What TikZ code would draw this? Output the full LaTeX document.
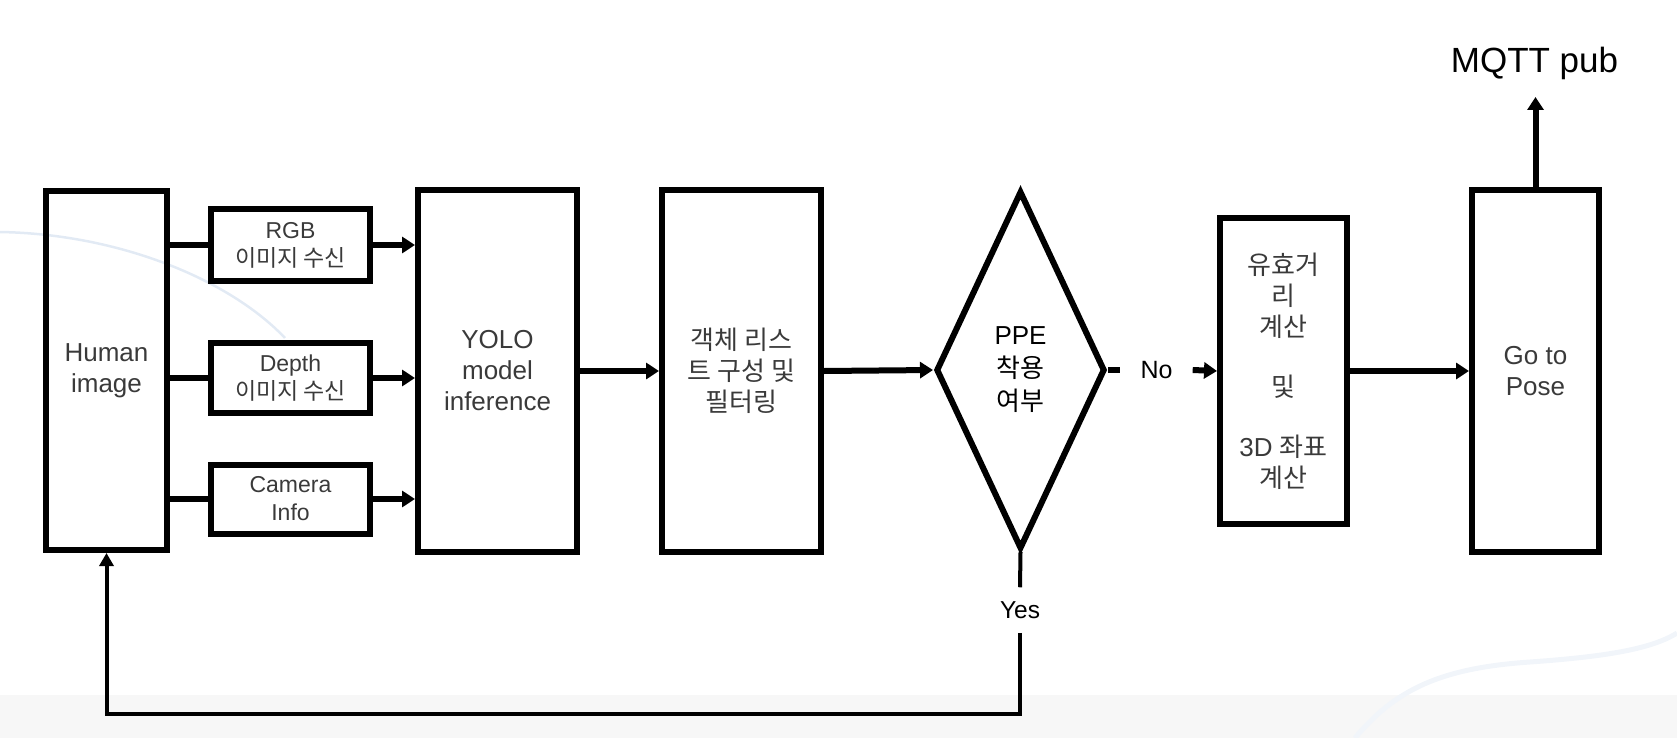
\documentclass[tikz,border=0pt]{standalone}
\usepackage{fontspec}
\setmainfont{Liberation Sans}
\newfontfamily\kr{Noto Sans CJK KR}
\usepackage{tikz}
\usetikzlibrary{arrows.meta}
\usetikzlibrary{shapes.geometric}

\definecolor{txtgray}{HTML}{3A3A3A}
\definecolor{swoosh}{HTML}{E2EAF4}
\definecolor{swooshlight}{HTML}{F1F5FA}
\definecolor{band}{HTML}{F7F7F7}

\tikzset{
    box/.style = {draw, line width=6pt, inner sep=0pt, align=center, text=txtgray},
    small/.style = {font=\fontsize{23}{28}\selectfont},
    big/.style = {font=\fontsize{26}{31}\selectfont},
    arr/.style = {line width=6pt, -{Triangle[length=13pt,width=16pt]}},
    fb/.style = {line width=4pt}
}

\begin{document}
\begin{tikzpicture}[x=1pt, y=-1pt]
    \useasboundingbox (0,0) rectangle (1677,738);

    % background
    \fill[band] (0,695) rectangle (1677,738);
    \draw[swoosh, line width=2.5pt] (0,232) .. controls (120,234) and (230,280) .. (285,338);
    \draw[swooshlight, line width=5pt] (1355,738) .. controls (1395,690) and (1440,668) .. (1530,662)
        .. controls (1600,657) and (1650,650) .. (1677,633);

    \node[box, big, minimum width=121pt, minimum height=359pt] (human) at (106.5,370.5) {Human\\image};
    \node[box, small, minimum width=159pt, minimum height=72pt] (rgb) at (290.5,245) {RGB\\{\kr 이미지 수신}};
    \node[box, small, minimum width=159pt, minimum height=70pt] (depth) at (290.5,378) {Depth\\{\kr 이미지 수신}};
    \node[box, small, minimum width=159pt, minimum height=69pt] (cam) at (290.5,499) {Camera\\Info};
    \node[box, big, minimum width=159pt, minimum height=362pt] (yolo) at (497.5,371) {YOLO\\model\\inference};
    \node[box, big, minimum width=159pt, minimum height=362pt] (list) at (741.5,371)
        {{\kr 객체 리스}\\{\kr 트 구성 및}\\{\kr 필터링}};
    \node[draw, diamond, line width=6pt, inner sep=0pt, align=center, minimum width=169pt, minimum height=358pt,
        font=\fontsize{26}{33}\selectfont] (ppe) at (1020.5,370) {PPE\\{\kr 착용}\\{\kr 여부}};
    \node[box, big, minimum width=127pt, minimum height=306pt] (dist) at (1283.5,371)
        {{\kr 유효거}\\{\kr 리}\\{\kr 계산}\\[29pt]{\kr 및}\\[29pt]3D {\kr 좌표}\\{\kr 계산}};
    \node[box, big, minimum width=127pt, minimum height=362pt] (goto) at (1535.5,371) {Go to\\Pose};

    \node[inner xsep=20pt, inner ysep=0pt, font=\fontsize{25}{30}\selectfont] (no) at (1156.5,370) {No};
    \node[inner xsep=4pt, inner ysep=14pt, fill=white, font=\fontsize{24.5}{29}\selectfont] (yes) at (1020,610) {Yes};
    \node[font=\fontsize{35}{42}\selectfont] (mqtt) at (1534.5,63) {MQTT pub};

    \foreach \n in {rgb, depth, cam} {
        \draw[line width=6pt] (\n.west -| human.east) -- (\n.west);
        \draw[arr] (\n.east) -- (\n.east -| yolo.west);
    }
    \draw[arr] (yolo.east) -- (list.west);
    \draw[arr] (list.east) -- (ppe.west);
    \draw[line width=6pt] (ppe.east) -- (no.west);
    \draw[arr] (no.east) -- (dist.west);
    \draw[arr] (dist.east) -- (goto.west);
    \draw[arr] (goto.north) -- ++(0,-90);

    % Yes -> back to start
    \coordinate (back) at (1020,714);
    \draw[fb] (ppe.south) -- (yes.north);
    \draw[fb, -{Triangle[length=13pt,width=14pt]}] (yes.south) -- (back) -| (human.south);
\end{tikzpicture}
\end{document}
